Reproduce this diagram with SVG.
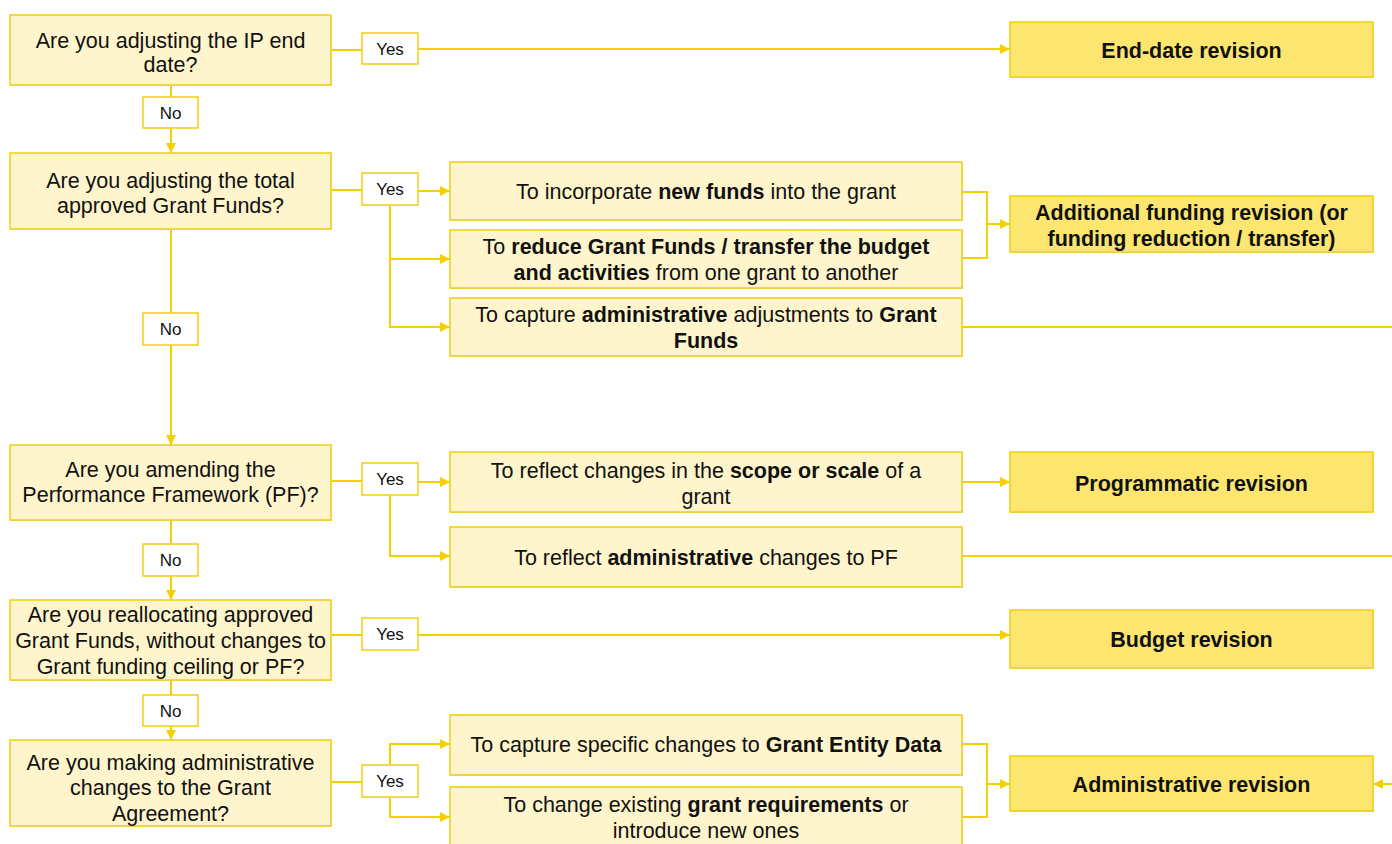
<svg xmlns="http://www.w3.org/2000/svg" width="1392" height="844" viewBox="0 0 1392 844">
<defs>
<marker id="ah" viewBox="0 0 10 10" refX="10" refY="5" markerWidth="10" markerHeight="10" markerUnits="userSpaceOnUse" orient="auto">
<path d="M0,0 L10,5 L0,10 z" fill="#F5D000"/>
</marker>
<style>
.q{fill:#FFF5CC;stroke:#F2D21A;stroke-width:1.6}
.m{fill:#FFF5CC;stroke:#F2D21A;stroke-width:1.6}
.r{fill:#FCE670;stroke:#F2D21A;stroke-width:1.6}
.l{fill:#FFFFFF;stroke:#F2D21A;stroke-width:1.6}
.sh{fill:#CFCFCF}
text{font-family:"Liberation Sans",Arial,sans-serif;fill:#111;text-anchor:middle}
.t{font-size:21.5px}
.tb{font-size:21.5px;font-weight:bold}
.lt{font-size:17px}
.b{font-weight:bold}
.c{fill:none;stroke:#F5D000;stroke-width:2}
.a{fill:none;stroke:#F5D000;stroke-width:2;marker-end:url(#ah)}
</style>
</defs>
<rect width="1392" height="844" fill="#FFFFFF"/>

<g id="connectors">
<path class="c" d="M331,50 H362"/>
<path class="a" d="M418,49 H1010"/>
<path class="c" d="M171,85 V97"/>
<path class="a" d="M171,128 V153"/>
<path class="c" d="M331,190 H362"/>
<path class="a" d="M418,191 H450"/>
<path class="a" d="M390,205 V327 H450"/>
<path class="a" d="M390,259 H450"/>
<path class="c" d="M171,229 V313"/>
<path class="a" d="M171,345 V445"/>
<path class="c" d="M962,192 H987 V258 H962"/>
<path class="a" d="M987,224 H1010"/>
<path class="c" d="M962,327 H1392"/>
<path class="c" d="M331,481 H362"/>
<path class="a" d="M418,482 H450"/>
<path class="a" d="M390,495 V556 H450"/>
<path class="a" d="M962,482 H1010"/>
<path class="c" d="M962,556 H1392"/>
<path class="c" d="M171,520 V544"/>
<path class="a" d="M171,576 V600"/>
<path class="c" d="M331,635 H362"/>
<path class="a" d="M418,635 H1010"/>
<path class="c" d="M171,680 V695"/>
<path class="a" d="M171,726 V740"/>
<path class="c" d="M331,782 H362"/>
<path class="a" d="M390,765 V744 H450"/>
<path class="a" d="M390,797 V817 H450"/>
<path class="c" d="M962,744 H987 V817 H962"/>
<path class="a" d="M987,784 H1010"/>
<path class="a" d="M1392,784 H1373"/>
</g>

<g id="q1"><rect class="sh" x="11" y="16" width="321" height="70"/><rect class="q" x="10" y="15" width="321" height="70"/>
<text class="t" x="170.5" y="48">Are you adjusting the IP end</text><text class="t" x="170.5" y="72">date?</text></g>
<g id="q2"><rect class="sh" x="11" y="154" width="321" height="76"/><rect class="q" x="10" y="153" width="321" height="76"/>
<text class="t" x="170.5" y="188">Are you adjusting the total</text><text class="t" x="170.5" y="213">approved Grant Funds?</text></g>
<g id="q3"><rect class="sh" x="11" y="446" width="321" height="75"/><rect class="q" x="10" y="445" width="321" height="75"/>
<text class="t" x="170.5" y="477">Are you amending the</text><text class="t" x="170.5" y="502">Performance Framework (PF)?</text></g>
<g id="q4"><rect class="sh" x="11" y="601" width="321" height="80"/><rect class="q" x="10" y="600" width="321" height="80"/>
<text class="t" x="170.5" y="622">Are you reallocating approved</text><text class="t" x="170.5" y="648">Grant Funds, without changes to</text><text class="t" x="170.5" y="674">Grant funding ceiling or PF?</text></g>
<g id="q5"><rect class="sh" x="11" y="741" width="321" height="86"/><rect class="q" x="10" y="740" width="321" height="86"/>
<text class="t" x="170.5" y="770">Are you making administrative</text><text class="t" x="170.5" y="795">changes to the Grant</text><text class="t" x="170.5" y="821">Agreement?</text></g>

<g id="no1"><rect class="l" x="143" y="97" width="55" height="31"/><text class="lt" x="170.5" y="118.5">No</text></g>
<g id="no2"><rect class="l" x="143" y="313" width="55" height="32"/><text class="lt" x="170.5" y="335">No</text></g>
<g id="no3"><rect class="l" x="143" y="544" width="55" height="32"/><text class="lt" x="170.5" y="566">No</text></g>
<g id="no4"><rect class="l" x="143" y="695" width="55" height="31"/><text class="lt" x="170.5" y="716.5">No</text></g>

<g id="yes1"><rect class="l" x="362" y="33" width="56" height="31"/><text class="lt" x="390" y="54.5">Yes</text></g>
<g id="yes2"><rect class="l" x="362" y="173" width="56" height="32"/><text class="lt" x="390" y="195">Yes</text></g>
<g id="yes3"><rect class="l" x="362" y="463" width="56" height="32"/><text class="lt" x="390" y="485">Yes</text></g>
<g id="yes4"><rect class="l" x="362" y="618" width="56" height="32"/><text class="lt" x="390" y="640">Yes</text></g>
<g id="yes5"><rect class="l" x="362" y="765" width="56" height="32"/><text class="lt" x="390" y="787">Yes</text></g>

<g id="m1"><rect class="sh" x="451" y="163" width="512" height="58"/><rect class="m" x="450" y="162" width="512" height="58"/>
<text class="t" x="706" y="199">To incorporate <tspan class="b">new funds</tspan> into the grant</text></g>
<g id="m2"><rect class="sh" x="451" y="231" width="512" height="58"/><rect class="m" x="450" y="230" width="512" height="58"/>
<text class="t" x="706" y="254">To <tspan class="b">reduce Grant Funds / transfer the budget</tspan></text><text class="t" x="706" y="280"><tspan class="b">and activities</tspan> from one grant to another</text></g>
<g id="m3"><rect class="sh" x="451" y="299" width="512" height="58"/><rect class="m" x="450" y="298" width="512" height="58"/>
<text class="t" x="706" y="322">To capture <tspan class="b">administrative</tspan> adjustments to <tspan class="b">Grant</tspan></text><text class="t b" x="706" y="348">Funds</text></g>
<g id="m4"><rect class="sh" x="451" y="453" width="512" height="60"/><rect class="m" x="450" y="452" width="512" height="60"/>
<text class="t" x="706" y="478">To reflect changes in the <tspan class="b">scope or scale</tspan> of a</text><text class="t" x="706" y="504">grant</text></g>
<g id="m5"><rect class="sh" x="451" y="528" width="512" height="60"/><rect class="m" x="450" y="527" width="512" height="60"/>
<text class="t" x="706" y="565">To reflect <tspan class="b">administrative</tspan> changes to PF</text></g>
<g id="m6"><rect class="sh" x="451" y="716" width="512" height="60"/><rect class="m" x="450" y="715" width="512" height="60"/>
<text class="t" x="706" y="752">To capture specific changes to <tspan class="b">Grant Entity Data</tspan></text></g>
<g id="m7"><rect class="sh" x="451" y="788" width="512" height="62"/><rect class="m" x="450" y="787" width="512" height="62"/>
<text class="t" x="706" y="812">To change existing <tspan class="b">grant requirements</tspan> or</text><text class="t" x="706" y="838">introduce new ones</text></g>

<g id="r1"><rect class="sh" x="1011" y="23" width="363" height="55"/><rect class="r" x="1010" y="22" width="363" height="55"/>
<text class="tb" x="1191.5" y="57.5">End-date revision</text></g>
<g id="r2"><rect class="sh" x="1011" y="197" width="363" height="56"/><rect class="r" x="1010" y="196" width="363" height="56"/>
<text class="tb" x="1191.5" y="219.5">Additional funding revision (or</text><text class="tb" x="1191.5" y="245.5">funding reduction / transfer)</text></g>
<g id="r3"><rect class="sh" x="1011" y="453" width="363" height="60"/><rect class="r" x="1010" y="452" width="363" height="60"/>
<text class="tb" x="1191.5" y="490.5">Programmatic revision</text></g>
<g id="r4"><rect class="sh" x="1011" y="611" width="363" height="58"/><rect class="r" x="1010" y="610" width="363" height="58"/>
<text class="tb" x="1191.5" y="646.5">Budget revision</text></g>
<g id="r5"><rect class="sh" x="1011" y="757" width="363" height="55"/><rect class="r" x="1010" y="756" width="363" height="55"/>
<text class="tb" x="1191.5" y="791.5">Administrative revision</text></g>
</svg>
